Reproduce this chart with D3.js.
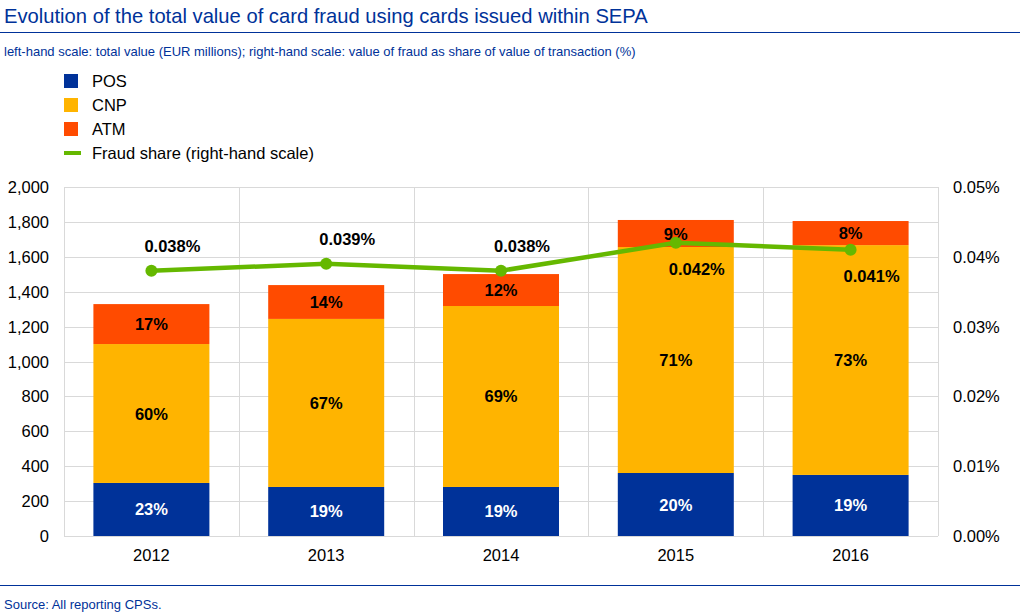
<!DOCTYPE html>
<html><head><meta charset="utf-8">
<script src="https://cdn.jsdelivr.net/npm/d3@7"></script>
<style>body{margin:0;background:#fff;}text{font-family:"Liberation Sans",Arial,sans-serif;}</style>
</head><body><svg id="c" width="1020" height="615"></svg>
<script>
const years = ["2012","2013","2014","2015","2016"];
const pos = [304, 281, 281, 361, 350];
const cnp = [796, 963, 1037, 1295, 1317];
const atm = [229, 194, 183, 155, 138];
const posPct = ["23%","19%","19%","20%","19%"];
const cnpPct = ["60%","67%","69%","71%","73%"];
const atmPct = ["17%","14%","12%","9%","8%"];
const fraudShare = [0.038, 0.039, 0.038, 0.042, 0.041];
const leftTicks = [0,200,400,600,800,1000,1200,1400,1600,1800,2000];
const rightTicks = [0,0.01,0.02,0.03,0.04,0.05];

const BLUE="#003299", YEL="#FFB400", ORA="#FF4B00", GRN="#65B800";
const svg = d3.select("#c");
const L=64, R=938, T=187, B=536;
const FS=16.5;
const x = d3.scaleBand().domain(years).range([L,R]).paddingInner(0).paddingOuter(0);
const y = d3.scaleLinear().domain([0,2000]).range([B,T]);
const y2 = d3.scaleLinear().domain([0,0.05]).range([B,T]);

// title
svg.append("text").attr("x",4).attr("y",23).attr("fill",BLUE).attr("font-size",20.2).text("Evolution of the total value of card fraud using cards issued within SEPA");
svg.append("line").attr("x1",0).attr("x2",1020).attr("y1",32.5).attr("y2",32.5).attr("stroke",BLUE).attr("stroke-width",1);
svg.append("text").attr("x",4).attr("y",56).attr("fill",BLUE).attr("font-size",13).text("left-hand scale: total value (EUR millions); right-hand scale: value of fraud as share of value of transaction (%)");

// legend
const leg = [["POS",BLUE,"rect"],["CNP",YEL,"rect"],["ATM",ORA,"rect"],["Fraud share (right-hand scale)",GRN,"line"]];
leg.forEach((d,i)=>{
  const cy = 81 + i*24;
  if(d[2]==="rect") svg.append("rect").attr("x",64).attr("y",cy-7).attr("width",14).attr("height",14).attr("fill",d[1]);
  else svg.append("line").attr("x1",64).attr("x2",81).attr("y1",cy).attr("y2",cy).attr("stroke",d[1]).attr("stroke-width",4);
  svg.append("text").attr("x",92).attr("y",cy+6).attr("font-size",FS).attr("fill","#000").text(d[0]);
});

// grid
const g = svg.append("g");
g.selectAll(".h").data(leftTicks).enter().append("line")
 .attr("x1",L).attr("x2",R).attr("y1",d=>Math.round(y(d))+0.5).attr("y2",d=>Math.round(y(d))+0.5)
 .attr("stroke","#d9d9d9").attr("stroke-width",1);
const vb = years.map(d=>x(d)).concat([R]);
g.selectAll(".v").data(vb).enter().append("line")
 .attr("x1",d=>Math.round(d)+0.5).attr("x2",d=>Math.round(d)+0.5).attr("y1",T).attr("y2",B)
 .attr("stroke","#d9d9d9").attr("stroke-width",1);

// bars
const bw = 116;
const stack = years.map((yr,i)=>({yr, segs:[
  {v0:0, v1:pos[i], c:BLUE, lab:posPct[i], tc:"#fff"},
  {v0:pos[i], v1:pos[i]+cnp[i], c:YEL, lab:cnpPct[i], tc:"#000"},
  {v0:pos[i]+cnp[i], v1:pos[i]+cnp[i]+atm[i], c:ORA, lab:atmPct[i], tc:"#000"}
]}));
stack.forEach(s=>{
  const cx = x(s.yr)+x.bandwidth()/2;
  s.segs.forEach(sg=>{
    svg.append("rect").attr("x",cx-bw/2).attr("width",bw).attr("y",y(sg.v1)).attr("height",y(sg.v0)-y(sg.v1)).attr("fill",sg.c);
  });
  s.segs.forEach(sg=>{
    svg.append("text").attr("x",cx).attr("y",(y(sg.v0)+y(sg.v1))/2+6).attr("text-anchor","middle")
      .attr("font-size",FS).attr("font-weight","bold").attr("fill",sg.tc).text(sg.lab);
  });
});

// line
const line = d3.line().x((d,i)=>x(years[i])+x.bandwidth()/2).y(d=>y2(d));
svg.append("path").datum(fraudShare).attr("d",line).attr("fill","none").attr("stroke",GRN).attr("stroke-width",4.5);
svg.selectAll(".pt").data(fraudShare).enter().append("circle")
 .attr("cx",(d,i)=>x(years[i])+x.bandwidth()/2).attr("cy",d=>y2(d)).attr("r",6).attr("fill",GRN);
svg.selectAll(".pl").data(fraudShare).enter().append("text")
 .attr("x",(d,i)=>x(years[i])+x.bandwidth()/2+21)
 .attr("y",(d,i)=> i<3 ? y2(d)-19 : y2(d)+32)
 .attr("text-anchor","middle").attr("font-size",FS).attr("font-weight","bold").attr("fill","#000")
 .text(d=>d3.format(".3f")(d)+"%");

// axes labels
const fmt = d3.format(",");
svg.selectAll(".lt").data(leftTicks).enter().append("text")
 .attr("x",49).attr("y",d=>y(d)+6).attr("text-anchor","end").attr("font-size",FS).attr("fill","#000").text(d=>fmt(d));
svg.selectAll(".rt").data(rightTicks).enter().append("text")
 .attr("x",953).attr("y",d=>y2(d)+6).attr("text-anchor","start").attr("font-size",FS).attr("fill","#000").text(d=>d3.format(".2f")(d)+"%");
svg.selectAll(".xt").data(years).enter().append("text")
 .attr("x",d=>x(d)+x.bandwidth()/2).attr("y",561).attr("text-anchor","middle").attr("font-size",FS).attr("fill","#000").text(d=>d);

// footer
svg.append("line").attr("x1",0).attr("x2",1020).attr("y1",585.5).attr("y2",585.5).attr("stroke",BLUE).attr("stroke-width",1);
svg.append("text").attr("x",4).attr("y",609).attr("fill",BLUE).attr("font-size",13).text("Source: All reporting CPSs.");
</script></body></html>
